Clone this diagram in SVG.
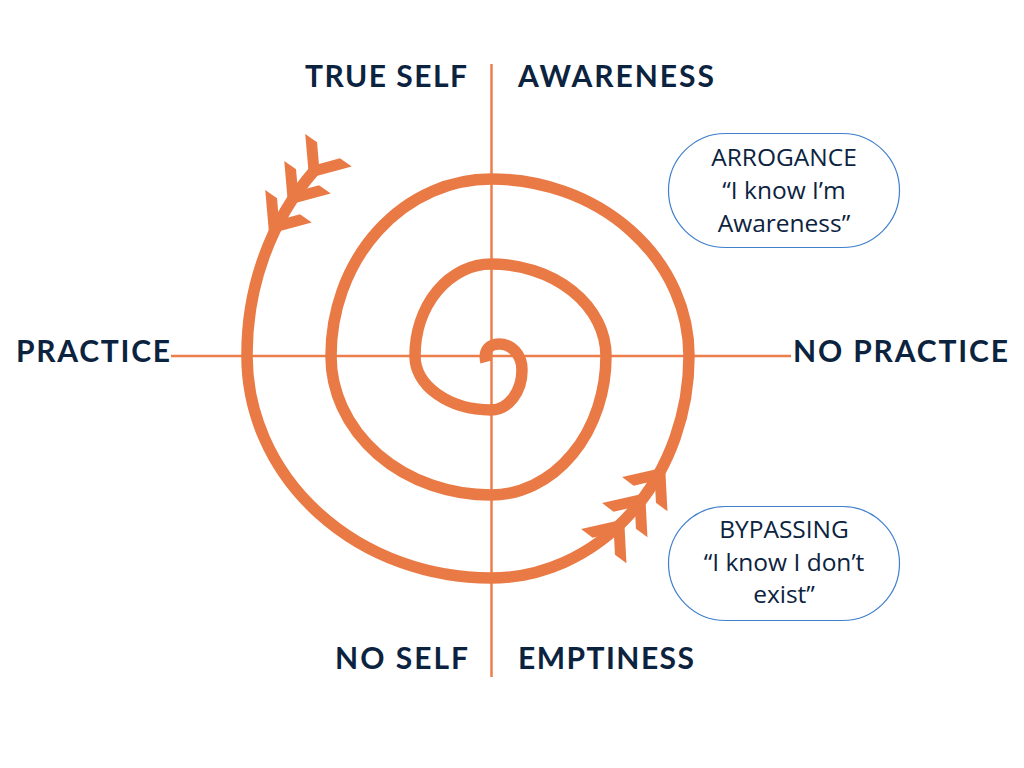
<svg xmlns="http://www.w3.org/2000/svg" width="1024" height="768" viewBox="0 0 1024 768">
  <style>
    .lbl { font-family: Lato, "Liberation Sans", sans-serif; font-weight: 700; font-size: 30px; fill: #0C2340; }
    .box { fill: #FFFFFF; stroke: #3F7FCB; stroke-width: 1.2; }
    .btxt { font-family: "Open Sans", "Liberation Sans", sans-serif; font-size: 24.5px; fill: #0C2340; text-anchor: middle; }
    .axis { stroke: #EC7E4C; stroke-width: 2.5; fill: none; }
    .spiral { stroke: #EA7A45; stroke-width: 11.5; fill: none; }
    .chev { fill: #EA7A45; }
  </style>
  <defs>
    <polygon id="chev" points="-8.6,0 25.3,28.4 25.3,14 8.6,0 25.3,-14 25.3,-28.4"/>
  </defs>
  <rect width="1024" height="768" fill="#FFFFFF"/>

  <g id="connectors">
    <line class="axis" x1="491.5" y1="64" x2="491.5" y2="677"/>
    <line class="axis" x1="171" y1="356" x2="791" y2="356"/>
    <path class="spiral" d="M 486 362 C 483 350, 490 344, 499 344 C 512 344, 522 355, 522 370 A 31 40 0 0 1 491 410 A 76 54 0 0 1 415 356 A 76 92 0 0 1 491 264 A 115 92 0 0 1 606 356 A 115 139 0 0 1 491 495 A 160 139 0 0 1 331 356 A 160 177 0 0 1 491 179 A 198 177 0 0 1 689 356 A 198 222 0 0 1 491 578 A 244 222 0 0 1 247 356 A 244 266 0 0 1 314 171"/>
    <g class="chev">
      <use href="#chev" transform="translate(660,474) rotate(127)"/>
      <use href="#chev" transform="translate(640,500) rotate(127)"/>
      <use href="#chev" transform="translate(619,526) rotate(127)"/>
      <use href="#chev" transform="translate(314,171) rotate(-55)"/>
      <use href="#chev" transform="translate(293,198) rotate(-55)"/>
      <use href="#chev" transform="translate(274,227) rotate(-55)"/>
    </g>
  </g>

  <g id="true-self"><text class="lbl" x="305" y="87" textLength="162" lengthAdjust="spacing">TRUE SELF</text></g>
  <g id="awareness"><text class="lbl" x="518" y="87" textLength="196" lengthAdjust="spacing">AWARENESS</text></g>
  <g id="practice"><text class="lbl" x="16" y="362" textLength="154" lengthAdjust="spacing">PRACTICE</text></g>
  <g id="no-practice"><text class="lbl" x="793" y="362" textLength="215" lengthAdjust="spacing">NO PRACTICE</text></g>
  <g id="no-self"><text class="lbl" x="335" y="669" textLength="133" lengthAdjust="spacing">NO SELF</text></g>
  <g id="emptiness"><text class="lbl" x="518" y="669" textLength="176" lengthAdjust="spacing">EMPTINESS</text></g>

  <g id="arrogance">
    <rect class="box" x="668.5" y="133.5" width="231" height="114" rx="57" ry="57"/>
    <text class="btxt" x="784" y="166">ARROGANCE</text>
    <text class="btxt" x="784" y="199">“I know I’m</text>
    <text class="btxt" x="784" y="232">Awareness”</text>
  </g>
  <g id="bypassing">
    <rect class="box" x="668.5" y="506.5" width="231" height="114" rx="57" ry="57"/>
    <text class="btxt" x="784" y="538">BYPASSING</text>
    <text class="btxt" x="784" y="571">“I know I don’t</text>
    <text class="btxt" x="784" y="603">exist”</text>
  </g>
</svg>
